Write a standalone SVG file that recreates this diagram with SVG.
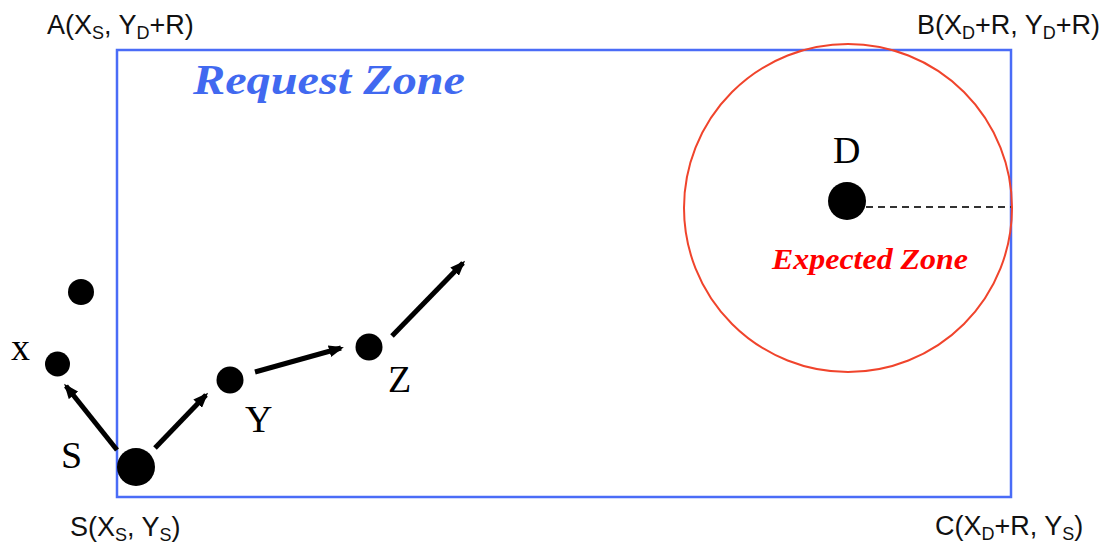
<svg xmlns="http://www.w3.org/2000/svg" width="1118" height="547" viewBox="0 0 1118 547">
<style>
.lbl{font-family:"Liberation Sans",Arial,sans-serif;font-size:27px;fill:#111}
.sub{font-size:18px}
.node{font-family:"Liberation Serif","Times New Roman",serif;font-size:38px;fill:#000}
.dot{fill:#000}
.arr{stroke:#000;stroke-width:5;fill:none;marker-end:url(#ah)}
</style>
<defs>
<marker id="ah" markerWidth="3" markerHeight="2.4" refX="2.4" refY="1.2" orient="auto" markerUnits="strokeWidth">
<path d="M0,0 L3,1.2 L0,2.4 Z" fill="#000"/>
</marker>
</defs>
<rect width="1118" height="547" fill="#fff"/>
<g id="request-zone">
<rect x="117" y="50" width="894" height="447" fill="none" stroke="#4a6cf7" stroke-width="2.5"/>
<text x="193" y="94" font-family="Liberation Serif,serif" font-weight="bold" font-style="italic" font-size="42" fill="#4169f0" textLength="272" lengthAdjust="spacingAndGlyphs">Request Zone</text>
</g>
<g id="expected-zone">
<circle cx="848" cy="208" r="164" fill="none" stroke="#f0442c" stroke-width="2"/>
<line x1="866" y1="207" x2="1011" y2="207" stroke="#333" stroke-width="2" stroke-dasharray="7,5"/>
<text x="772" y="269" font-family="Liberation Serif,serif" font-weight="bold" font-style="italic" font-size="29" fill="#ff0000" textLength="196" lengthAdjust="spacingAndGlyphs">Expected Zone</text>
</g>
<g id="corner-A"><text class="lbl" x="47" y="34">A(X<tspan class="sub" dy="5">S</tspan><tspan dy="-5">, Y</tspan><tspan class="sub" dy="5">D</tspan><tspan dy="-5">+R)</tspan></text></g>
<g id="corner-B"><text class="lbl" x="917" y="34">B(X<tspan class="sub" dy="5">D</tspan><tspan dy="-5">+R, Y</tspan><tspan class="sub" dy="5">D</tspan><tspan dy="-5">+R)</tspan></text></g>
<g id="corner-C"><text class="lbl" x="935" y="535">C(X<tspan class="sub" dy="5">D</tspan><tspan dy="-5">+R, Y</tspan><tspan class="sub" dy="5">S</tspan><tspan dy="-5">)</tspan></text></g>
<g id="corner-S"><text class="lbl" x="70" y="536">S(X<tspan class="sub" dy="5">S</tspan><tspan dy="-5">, Y</tspan><tspan class="sub" dy="5">S</tspan><tspan dy="-5">)</tspan></text></g>
<g id="node-D"><circle class="dot" cx="847" cy="201" r="19"/><text class="node" x="833" y="163">D</text></g>
<g id="node-S"><circle class="dot" cx="136" cy="467" r="19"/><text class="node" x="61" y="468">S</text></g>
<g id="node-x"><circle class="dot" cx="57.5" cy="364" r="12.5"/><text class="node" x="11" y="360">x</text></g>
<g id="node-top"><circle class="dot" cx="81" cy="292" r="13"/></g>
<g id="node-Y"><circle class="dot" cx="230" cy="380" r="13.5"/><text class="node" x="245" y="432">Y</text></g>
<g id="node-Z"><circle class="dot" cx="369" cy="347" r="13.5"/><text class="node" x="388" y="392">Z</text></g>
<g id="connectors">
<line class="arr" x1="117" y1="450" x2="66" y2="386"/>
<line class="arr" x1="155" y1="448" x2="206" y2="395"/>
<line class="arr" x1="255" y1="372" x2="341" y2="348"/>
<line class="arr" x1="392" y1="336" x2="463" y2="263"/>
</g>
</svg>
